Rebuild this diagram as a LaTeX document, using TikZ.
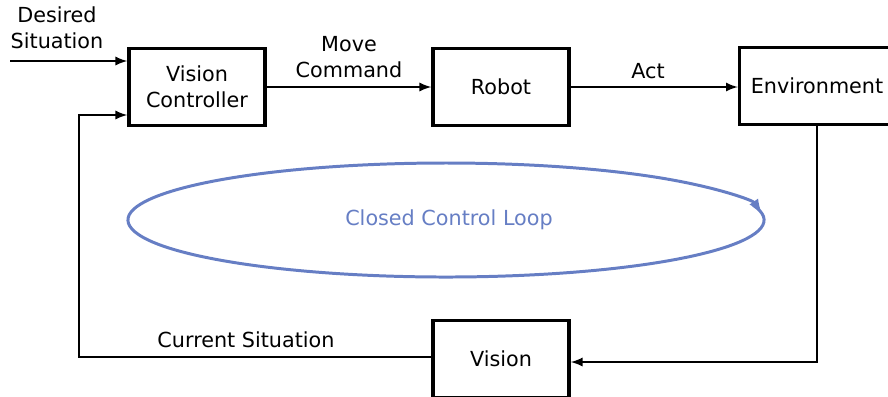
\documentclass[tikz,border=0pt]{standalone}
\usepackage{fontspec}
\setmainfont{DejaVu Sans}
\usetikzlibrary{positioning}
\definecolor{loopblue}{RGB}{102,126,196}

\begin{document}
\begin{tikzpicture}[>=latex, x=0.02cm, y=-0.02cm,
    font=\fontsize{11.8}{14.7}\selectfont,
    block/.style={draw, line width=2pt, minimum width=2.72cm,
      minimum height=1.54cm, align=center},
    flow/.style={->, line width=1.3pt}]
  \useasboundingbox (0,0) rectangle (888,396);
  % blocks
  \node[block] (ctrl) at (197,87) {Vision\\Controller};
  \node[block] (robot) at (501,87) {Robot};
  \node[block, minimum width=3.1cm] (env) at (817,86) {Environment};
  \node[block] (vision) at (501,359) {Vision};
  % signals
  \coordinate (in) at (10,61);
  \coordinate (fb) at (79,115);
  \draw[flow] (in) -- (ctrl.west |- in);
  \draw[flow] (ctrl.east |- robot) -- (robot.west);
  \draw[flow] (robot.east) -- (env.west |- robot);
  \draw[flow] (env.south) |- ([yshift=-0.06cm]vision.east);
  \draw[flow] ([yshift=0.04cm]vision.west) -| (fb) -- (ctrl.west |- fb);
  \node[align=center] (desired) at (57,28) {Desired\\Situation};
  \node[align=center] (move) at (349,57) {Move\\Command};
  \node (act) at (648,71) {Act};
  \node (current) at (246,340) {Current Situation};
  % loop
  \draw[loopblue, line width=1.7pt, ->] (446,220) ++(-375:318 and 57)
    arc[start angle=-375, end angle=-7, x radius=318, y radius=57];
  \node[loopblue] (looptext) at (449,220) {Closed Control Loop};
\end{tikzpicture}
\end{document}
